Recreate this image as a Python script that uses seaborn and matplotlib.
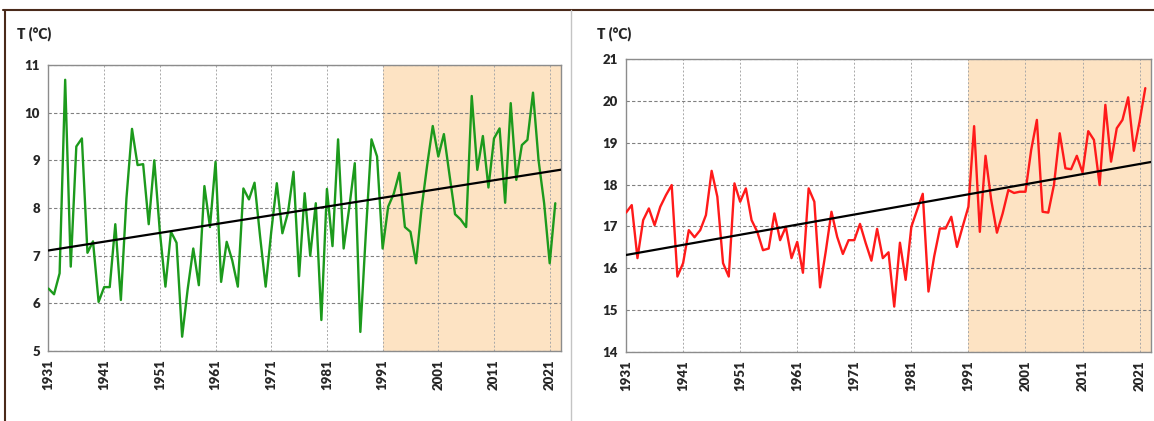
import seaborn as sns
import numpy as np
import pandas as pd
import matplotlib.pyplot as plt
from matplotlib.lines import Line2D

years = list(range(1931, 2023))

# left panel: minimum temperature series (green)
t_left = [6.31, 6.19, 6.63, 10.69, 6.77, 9.29, 9.46, 7.06, 7.30, 6.03,
          6.34, 6.34, 7.66, 6.07, 8.20, 9.66, 8.90, 8.92, 7.66, 9.00,
          7.50, 6.35, 7.50, 7.27, 5.30, 6.30, 7.15, 6.38, 8.46, 7.60,
          8.97, 6.45, 7.29, 6.90, 6.35, 8.41, 8.18, 8.53, 7.40, 6.35,
          7.50, 8.52, 7.47, 7.90, 8.76, 6.57, 8.31, 7.00, 8.10, 5.65,
          8.40, 7.20, 9.44, 7.15, 8.00, 8.94, 5.40, 7.50, 9.44, 9.08,
          7.15, 8.03, 8.30, 8.74, 7.60, 7.50, 6.84, 8.00, 8.90, 9.72,
          9.08, 9.55, 8.70, 7.87, 7.76, 7.60, 10.35, 8.80, 9.51, 8.43,
          9.46, 9.67, 8.11, 10.20, 8.59, 9.32, 9.43, 10.42, 9.00, 8.10,
          6.84, 8.10]

# right panel: maximum temperature series (red)
t_right = [17.33, 17.51, 16.24, 17.15, 17.43, 17.03, 17.47, 17.75, 17.99, 15.80,
           16.12, 16.91, 16.74, 16.91, 17.27, 18.33, 17.71, 16.12, 15.80, 18.03,
           17.59, 17.91, 17.15, 16.87, 16.43, 16.47, 17.31, 16.67, 16.99, 16.24,
           16.63, 15.89, 17.91, 17.59, 15.54, 16.40, 17.35, 16.75, 16.34, 16.67,
           16.67, 17.06, 16.60, 16.18, 16.94, 16.24, 16.38, 15.08, 16.61, 15.72,
           16.99, 17.39, 17.78, 15.44, 16.28, 16.95, 16.95, 17.23, 16.51, 17.00,
           17.47, 19.40, 16.87, 18.69, 17.63, 16.85, 17.31, 17.87, 17.80, 17.83,
           17.83, 18.83, 19.55, 17.35, 17.33, 18.00, 19.23, 18.39, 18.37, 18.69,
           18.29, 19.28, 19.07, 17.99, 19.91, 18.55, 19.35, 19.55, 20.09, 18.81,
           19.51, 20.31]

x_ticks = list(range(1931, 2022, 10))
y_ticks_left = list(range(5, 12))
y_ticks_right = list(range(14, 22))
period_start = 1991
y_label = "T (°C)"

sns.set_style("white")
plt.rcParams['font.family'] = ['Lato', 'DejaVu Sans']

fig = plt.figure(figsize=(11.54, 4.21), dpi=100)
ax_l = fig.add_axes([0.042, 0.1663, 0.444, 0.6793])
ax_r = fig.add_axes([0.5425, 0.1646, 0.4549, 0.6945])

panels = [
    (ax_l, t_left, '#1c9a1c', y_ticks_left, (0.015, 0.921)),
    (ax_r, t_right, '#ff1a1a', y_ticks_right, (0.517, 0.921)),
]

for ax, vals, color, yt, lab_pos in panels:
    df = pd.DataFrame({'year': years, 'T': vals})
    ax.set_xlim(1931, 2023)
    ax.set_ylim(yt[0], yt[-1])
    ax.axvspan(period_start, 2023, color='#fde3c3', zorder=0, lw=0)
    sns.lineplot(data=df, x='year', y='T', ax=ax, color=color, lw=1.7, zorder=3)
    sns.regplot(data=df, x='year', y='T', ax=ax, scatter=False, ci=None,
                truncate=False, color='black', line_kws={'lw': 1.6, 'zorder': 4})
    ax.set_xlim(1931, 2023)
    ax.set_xticks(x_ticks)
    ax.set_yticks(yt)
    ax.set_xticklabels([str(v) for v in x_ticks], rotation=90, fontsize=9.5,
                       fontweight='heavy')
    ax.set_yticklabels([str(v) for v in yt], fontsize=9.5, fontweight='heavy')
    ax.set_xlabel('')
    ax.set_ylabel('')
    ax.grid(True, axis='y', color='#808080', ls=(0, (3, 2)), lw=0.8, zorder=1)
    ax.grid(True, axis='x', color='#a8a8a8', ls=(0, (2, 2)), lw=0.7, zorder=1)
    ax.tick_params(axis='both', direction='out', length=4, width=0.8,
                   color='#777777', pad=2)
    for s in ax.spines.values():
        s.set_color('#8c8c8c')
        s.set_linewidth(1.0)
    fig.text(lab_pos[0], lab_pos[1], y_label, fontsize=10, fontweight='heavy',
             ha='left', va='center')

# frame around the figure and separator between the two panels
fig.add_artist(Line2D([0.003, 1.0], [0.976, 0.976], color='#4a2a1a', lw=1.5))
fig.add_artist(Line2D([0.0045, 0.0045], [0.0, 0.976], color='#4a2a1a', lw=1.5))
fig.add_artist(Line2D([0.4948, 0.4948], [0.0, 0.976], color='#c4c4c4', lw=1.0))

fig.savefig('out.png', dpi=100)
